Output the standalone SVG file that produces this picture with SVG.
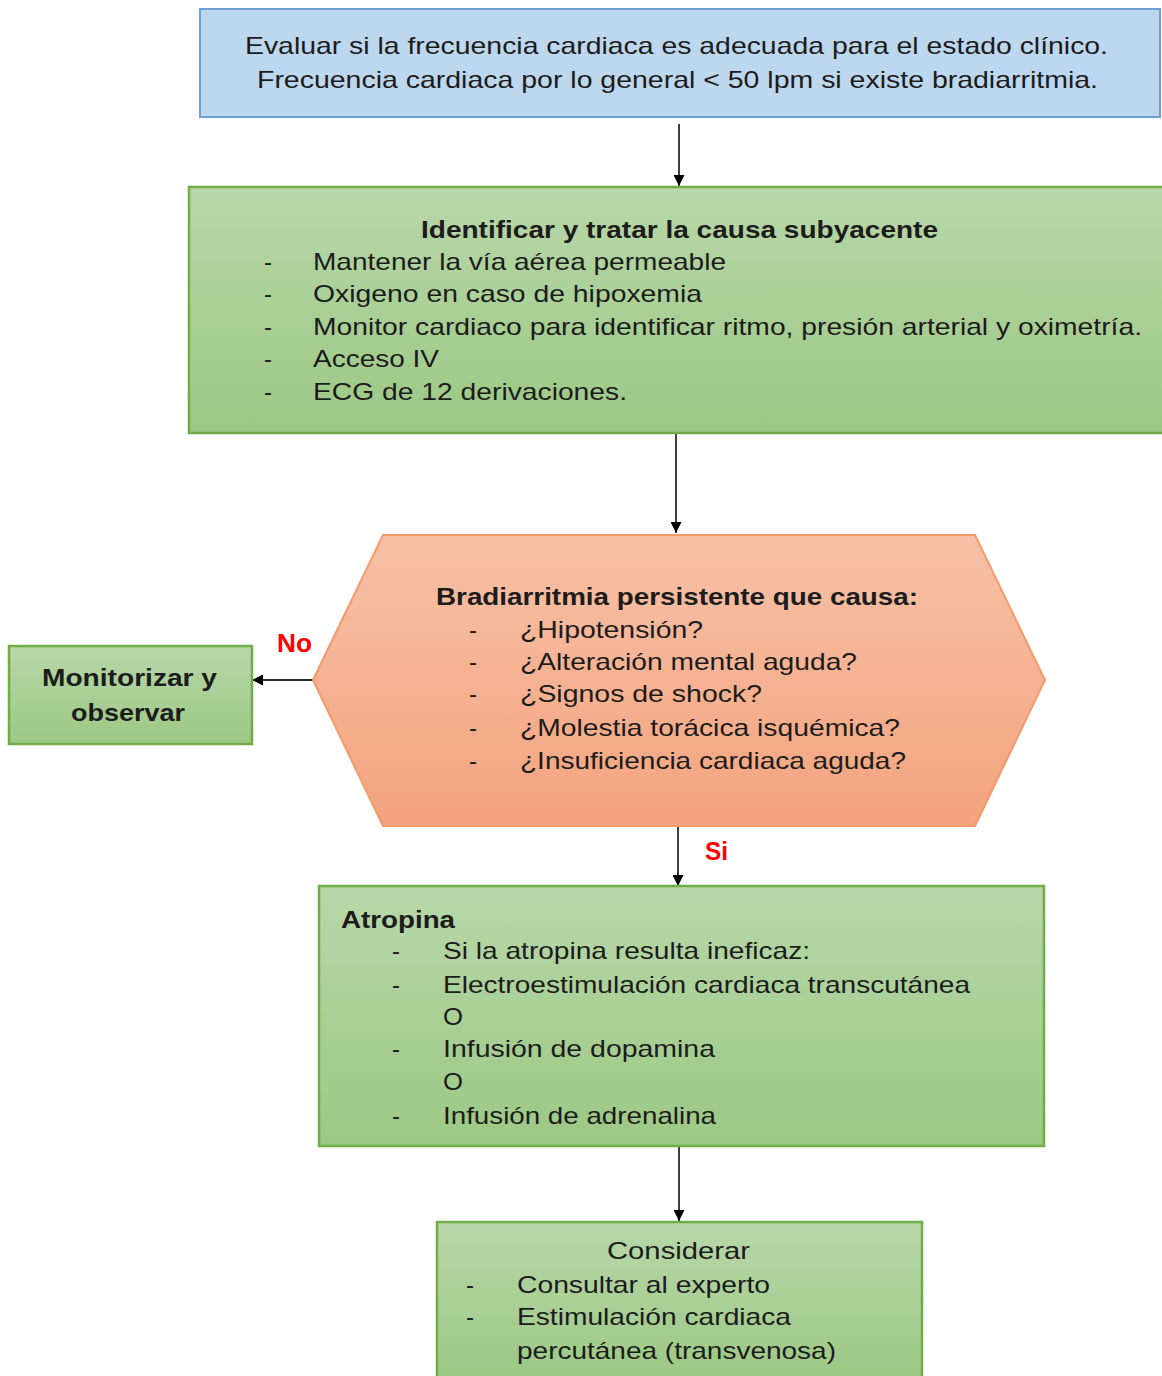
<svg xmlns="http://www.w3.org/2000/svg" width="1162" height="1376" viewBox="0 0 1162 1376">
  <defs>
    <linearGradient id="gGreen" x1="0" y1="0" x2="0" y2="1">
      <stop offset="0" stop-color="#b8d7a9"/>
      <stop offset="1" stop-color="#9cc884"/>
    </linearGradient>
    <linearGradient id="gOrange" x1="0" y1="0" x2="0" y2="1">
      <stop offset="0" stop-color="#f7c1a7"/>
      <stop offset="1" stop-color="#f4a37e"/>
    </linearGradient>
    <marker id="arrow" viewBox="0 0 10 10" refX="10" refY="5" markerWidth="12" markerHeight="11" markerUnits="userSpaceOnUse" orient="auto">
      <path d="M0,0 L10,5 L0,10 Z" fill="#000"/>
    </marker>
  </defs>
  <style>
    text { font-family: "Liberation Sans", Arial, sans-serif; fill: #1c1c1c; font-size: 24px; }
    .b { font-weight: bold; }
    .lab { fill: #ff0000; font-weight: bold; font-size: 25px; }
    .green { fill: url(#gGreen); stroke: #70ad47; stroke-width: 2.5; }
    .conn { stroke: #2a2a2a; stroke-width: 1.8; fill: none; marker-end: url(#arrow); }
  </style>

  <rect width="1162" height="1376" fill="#ffffff"/>

  <!-- connectors -->
  <g id="connectors">
    <line class="conn" x1="679" y1="124" x2="679" y2="186"/>
    <line class="conn" x1="676" y1="433" x2="676" y2="533"/>
    <line class="conn" x1="313" y1="680" x2="252" y2="680"/>
    <line class="conn" x1="678" y1="826" x2="678" y2="886"/>
    <line class="conn" x1="679" y1="1146" x2="679" y2="1221"/>
    <text class="lab" x="277" y="652" textLength="35" lengthAdjust="spacingAndGlyphs">No</text>
    <text class="lab" x="705" y="860" textLength="23" lengthAdjust="spacingAndGlyphs">Si</text>
  </g>

  <!-- assess heart rate -->
  <g id="evaluar">
    <rect x="200" y="9" width="960" height="108" fill="#bdd7ee" stroke="#6e9fd6" stroke-width="2"/>
    <text x="245" y="54" textLength="863" lengthAdjust="spacingAndGlyphs">Evaluar si la frecuencia cardiaca es adecuada para el estado clínico.</text>
    <text x="257" y="88" textLength="841" lengthAdjust="spacingAndGlyphs">Frecuencia cardiaca por lo general &lt; 50 lpm si existe bradiarritmia.</text>
  </g>

  <!-- underlying cause -->
  <g id="causa">
    <rect class="green" x="189" y="187" width="976" height="246"/>
    <text class="b" x="421" y="238" textLength="517" lengthAdjust="spacingAndGlyphs">Identificar y tratar la causa subyacente</text>
    <text x="264" y="270">-</text>
    <text x="313" y="270" textLength="413" lengthAdjust="spacingAndGlyphs">Mantener la vía aérea permeable</text>
    <text x="264" y="302">-</text>
    <text x="313" y="302" textLength="389" lengthAdjust="spacingAndGlyphs">Oxigeno en caso de hipoxemia</text>
    <text x="264" y="335">-</text>
    <text x="313" y="335" textLength="829" lengthAdjust="spacingAndGlyphs">Monitor cardiaco para identificar ritmo, presión arterial  y oximetría.</text>
    <text x="264" y="367">-</text>
    <text x="313" y="367" textLength="126" lengthAdjust="spacingAndGlyphs">Acceso IV</text>
    <text x="264" y="400">-</text>
    <text x="313" y="400" textLength="314" lengthAdjust="spacingAndGlyphs">ECG de 12 derivaciones.</text>
  </g>

  <!-- decision -->
  <g id="bradiarritmia">
    <polygon points="383,535 975,535 1045,680 975,826 383,826 313,680" fill="url(#gOrange)" stroke="#f39a6b" stroke-width="2"/>
    <text class="b" x="436" y="605" textLength="482" lengthAdjust="spacingAndGlyphs">Bradiarritmia persistente  que causa:</text>
    <text x="469" y="638">-</text>
    <text x="520" y="638" textLength="183" lengthAdjust="spacingAndGlyphs">¿Hipotensión?</text>
    <text x="469" y="670">-</text>
    <text x="520" y="670" textLength="337" lengthAdjust="spacingAndGlyphs">¿Alteración mental aguda?</text>
    <text x="469" y="702">-</text>
    <text x="520" y="702" textLength="242" lengthAdjust="spacingAndGlyphs">¿Signos de shock?</text>
    <text x="469" y="736">-</text>
    <text x="520" y="736" textLength="380" lengthAdjust="spacingAndGlyphs">¿Molestia torácica isquémica?</text>
    <text x="469" y="769">-</text>
    <text x="520" y="769" textLength="386" lengthAdjust="spacingAndGlyphs">¿Insuficiencia cardiaca aguda?</text>
  </g>

  <!-- monitor -->
  <g id="monitorizar">
    <rect class="green" x="9" y="646" width="243" height="98"/>
    <text class="b" x="42" y="686" textLength="175" lengthAdjust="spacingAndGlyphs">Monitorizar y</text>
    <text class="b" x="71" y="721" textLength="114" lengthAdjust="spacingAndGlyphs">observar</text>
  </g>

  <!-- atropine -->
  <g id="atropina">
    <rect class="green" x="319" y="886" width="725" height="260"/>
    <text class="b" x="341" y="928" textLength="114" lengthAdjust="spacingAndGlyphs">Atropina</text>
    <text x="392" y="959">-</text>
    <text x="443" y="959" textLength="367" lengthAdjust="spacingAndGlyphs">Si la atropina resulta ineficaz:</text>
    <text x="392" y="993">-</text>
    <text x="443" y="993" textLength="527" lengthAdjust="spacingAndGlyphs">Electroestimulación cardiaca transcutánea</text>
    <text x="443" y="1025" textLength="20" lengthAdjust="spacingAndGlyphs">O</text>
    <text x="392" y="1057">-</text>
    <text x="443" y="1057" textLength="272" lengthAdjust="spacingAndGlyphs">Infusión de dopamina</text>
    <text x="443" y="1090" textLength="20" lengthAdjust="spacingAndGlyphs">O</text>
    <text x="392" y="1124">-</text>
    <text x="443" y="1124" textLength="273" lengthAdjust="spacingAndGlyphs">Infusión de adrenalina</text>
  </g>

  <!-- consider -->
  <g id="considerar">
    <rect class="green" x="437" y="1222" width="485" height="160"/>
    <text x="607" y="1259" textLength="143" lengthAdjust="spacingAndGlyphs">Considerar</text>
    <text x="466" y="1293">-</text>
    <text x="517" y="1293" textLength="253" lengthAdjust="spacingAndGlyphs">Consultar al experto</text>
    <text x="466" y="1325">-</text>
    <text x="517" y="1325" textLength="274" lengthAdjust="spacingAndGlyphs">Estimulación cardiaca</text>
    <text x="517" y="1359" textLength="319" lengthAdjust="spacingAndGlyphs">percutánea (transvenosa)</text>
  </g>
</svg>
